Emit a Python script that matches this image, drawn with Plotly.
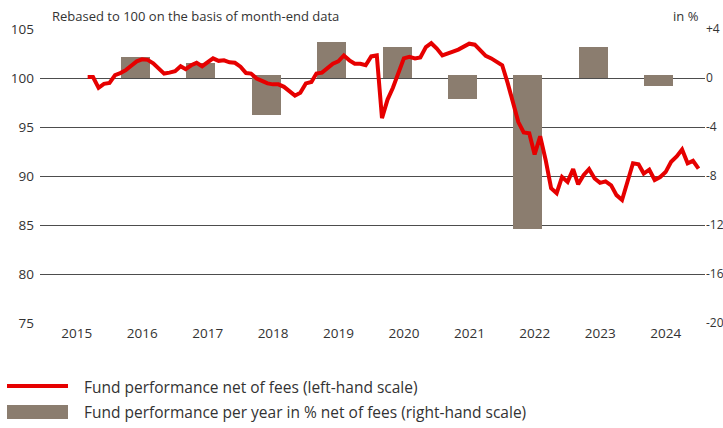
import pandas as pd
import plotly.graph_objects as go

# ---- data ----
line_start = "2015-08-31"  # first month-end value
fund_index = [
    100.1, 100.1, 99.0, 99.4, 99.5, 100.3, 100.5, 100.8, 101.25, 101.7,
    101.9, 101.85, 101.5, 100.95, 100.45, 100.55, 100.7, 101.2, 100.9, 101.3,
    101.55, 101.2, 101.65, 102.0, 101.75, 101.8, 101.6, 101.55, 101.15, 100.5,
    100.45, 99.95, 99.7, 99.45, 99.35, 99.35, 99.1, 98.6, 98.2, 98.5,
    99.45, 99.6, 100.45, 100.55, 100.95, 101.45, 101.7, 102.3, 101.8, 101.45,
    101.45, 101.3, 102.2, 102.3, 95.9, 97.8, 99.0, 100.4, 102.0, 102.15,
    102.0, 102.1, 103.15, 103.55, 103.0, 102.3, 102.45, 102.7, 102.9, 103.15,
    103.5, 103.4, 102.8, 102.25, 102.0, 101.7, 101.3, 99.45, 97.4, 95.5,
    94.45, 94.35, 92.2, 94.05, 91.6, 88.75, 88.25, 89.9, 89.4, 90.7,
    89.15, 90.1, 90.7, 89.75, 89.3, 89.45, 89.05, 88.05, 87.55, 89.4,
    91.3, 91.2, 90.25, 90.65, 89.6, 89.9, 90.4, 91.45, 92.0, 92.7,
    91.3, 91.55, 90.75,
]
years = [2016, 2017, 2018, 2019, 2020, 2021, 2022, 2023, 2024]
annual_perf = [1.7, 1.25, -3.05, 2.9, 2.5, -1.75, -12.3, 2.5, -0.65]
axis_years = [2015, 2016, 2017, 2018, 2019, 2020, 2021, 2022, 2023, 2024]
left_ticks = [75, 80, 85, 90, 95, 100, 105]
right_ticks = [-20, -16, -12, -8, -4, 0, 4]
right_labels = ["-20", "-16", "-12", "-8", "-4", "0", "+4"]

RED = "#e60000"
BAR = "#8b7d6f"
GRID = "#4d4d4d"
TXT = "#333333"
FONT = "Open Sans"

dates = pd.date_range(start=line_start, periods=len(fund_index), freq="ME")
bar_x = [pd.Timestamp(f"{y}-07-01") - pd.Timedelta(days=39) for y in years]
bar_w = 162 * 24 * 3600 * 1000
bar_base = [0.28 if v < 0 else 0 for v in annual_perf]
bar_len = [v - b for v, b in zip(annual_perf, bar_base)]

fig = go.Figure()
fig.add_trace(go.Bar(
    x=bar_x, y=bar_len, base=bar_base, width=bar_w, marker_color=BAR,
    marker_line_width=0, yaxis="y", showlegend=False,
    name="Fund performance per year in % net of fees (right-hand scale)",
))
fig.add_trace(go.Scatter(
    x=dates, y=fund_index, mode="lines", yaxis="y2",
    line=dict(color=RED, width=4), showlegend=False,
    name="Fund performance net of fees (left-hand scale)",
))

W, H = 723, 428
L, R, T, B = 40, 18, 29, 105
pw, ph = W - L - R, H - T - B

def px(x):
    return (x - L) / pw

def py(y):
    return (H - B - y) / ph

fig.update_layout(
    width=W, height=H,
    margin=dict(l=L, r=R, t=T, b=B, pad=0, autoexpand=False),
    paper_bgcolor="white", plot_bgcolor="white",
    font=dict(family=FONT, color=TXT, size=13),
    bargap=0,
    xaxis=dict(
        type="date",
        range=["2014-12-08", "2025-02-05"],
        tickvals=[f"{y}-07-01" for y in axis_years],
        ticktext=[str(y) for y in axis_years],
        showgrid=False, zeroline=False, showline=False, ticks="",
        tickfont=dict(size=13.5, color=TXT), automargin=False,
    ),
    yaxis=dict(
        side="right", range=[-20, 4],
        tickvals=right_ticks, ticktext=right_labels,
        showgrid=True, gridcolor=GRID, gridwidth=1.3,
        zeroline=False, showline=False, ticks="",
        tickfont=dict(size=12, color=TXT), automargin=False,
        ticklabelstandoff=0,
    ),
    yaxis2=dict(
        overlaying="y", side="left", range=[75, 105],
        tickvals=left_ticks, showgrid=False, zeroline=False,
        showline=False, ticks="",
        tickfont=dict(size=13.5, color=TXT), automargin=False,
        ticklabelstandoff=5,
    ),
    annotations=[
        dict(text="Rebased to 100 on the basis of month-end data", xref="paper", yref="paper",
             x=px(50), y=py(16), xanchor="left", yanchor="middle", showarrow=False,
             font=dict(size=13, color=TXT)),
        dict(text="in %", xref="paper", yref="paper", x=px(701), y=py(16),
             xanchor="right", yanchor="middle", showarrow=False,
             font=dict(size=13, color=TXT)),
        dict(text="Fund performance net of fees (left-hand scale)", xref="paper", yref="paper",
             x=px(82), y=py(387), xanchor="left", yanchor="middle", showarrow=False,
             font=dict(size=15.5, color=TXT)),
        dict(text="Fund performance per year in % net of fees (right-hand scale)", xref="paper",
             yref="paper", x=px(82), y=py(412), xanchor="left", yanchor="middle",
             showarrow=False, font=dict(size=15.5, color=TXT)),
    ],
    shapes=[
        dict(type="line", xref="paper", yref="paper", x0=px(7), x1=px(68), y0=py(386), y1=py(386),
             line=dict(color=RED, width=4)),
        dict(type="rect", xref="paper", yref="paper", x0=px(7), x1=px(68), y0=py(405), y1=py(419),
             fillcolor=BAR, line=dict(width=0)),
    ],
)

fig.write_html("out.html", config={"displayModeBar": False},
               post_script="document.body.style.margin='0';")
